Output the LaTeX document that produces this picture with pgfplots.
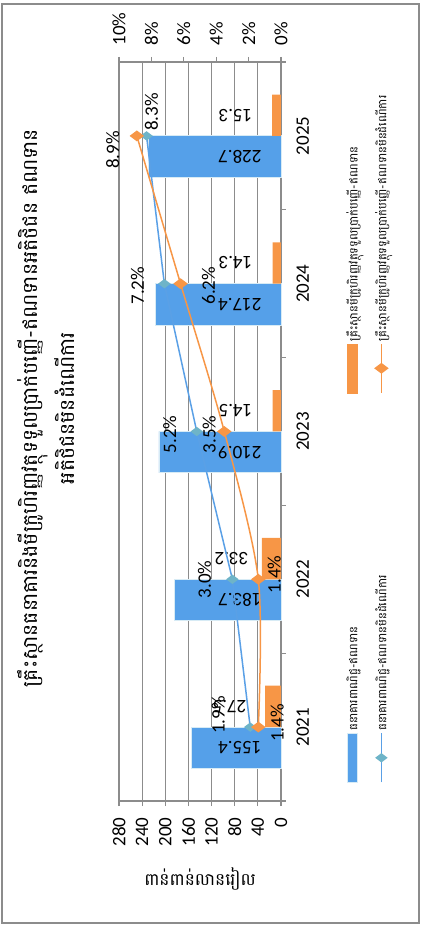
\documentclass[border=0pt]{standalone}
\usepackage{pgfplots}
\pgfplotsset{compat=1.18}
\usepackage{pgfplotstable}
\usepackage{graphicx}
\usepackage{fontspec}
\setmainfont{Carlito}
\newfontfamily\khmer[Script=Khmer]{Battambang}
\definecolor{barblue}{RGB}{85,160,233}
\definecolor{barorange}{RGB}{247,150,70}
\definecolor{lineblue}{RGB}{90,160,230}
\definecolor{markteal}{RGB}{110,180,200}
\definecolor{gridgray}{RGB}{140,140,140}
\definecolor{edgecyan}{RGB}{215,235,245}
\newcommand\numfont{\fontsize{19}{19}\selectfont}
\pgfplotsset{/pgf/number format/assume math mode=true}

\pgfplotstableread{
x xb xo cb lcb mfi lmfi cbr bdx bdy mfir odx ody
0 -0.14 0.14 155.4 71 27.5 89 1.9 12 32 1.4 4 -19
1 0.86 1.14 183.7 71 33.2 85.5 3.0 0 28 1.4 5 -16
2 1.86 2.14 210.9 71 14.5 78.6 5.2 -3 27 3.5 -3 15
3 2.86 3.14 217.4 71 14.3 78.6 7.2 -2 27 6.2 -2 -28
4 3.86 4.14 228.7 71 15.3 78.6 8.3 24 -5 8.9 -14 24
}\data

\begin{document}
\rotatebox{90}{%
\begin{tikzpicture}[x=1pt,y=1pt]
\useasboundingbox (-129,-141) rectangle (801,281);
\draw[gridgray, line width=1.2pt] (-122,-138) rectangle (797,279);
\begin{axis}[
  scale only axis, width=739pt, height=162pt,
  at={(0pt,0pt)}, anchor=south west,
  xmin=-0.5, xmax=4.5, ymin=0, ymax=280,
  axis lines*=left,
  axis line style={gridgray, line width=1.2pt},
  tick align=outside, major tick length=5pt,
  tick style={gridgray, line width=1.2pt},
  ytick={0,40,...,280},
  yticklabel style={xshift=-8pt},
  xtick={-0.5,0.5,...,4.5}, xticklabels={},
  extra x ticks={0,1,2,3,4},
  extra x tick labels={2021,2022,2023,2024,2025},
  extra x tick style={major tick length=0pt, xticklabel style={yshift=-12pt}},
  ymajorgrids, grid style={gridgray, line width=1.2pt},
  ticklabel style={font=\numfont},
  ylabel={ពាន់ពាន់លានរៀល},
  ylabel style={rotate=180, at={(axis description cs:-0.105,0.5)}, anchor=center, font=\khmer\fontsize{17}{17}\selectfont},
  clip=false,
]
\addplot[ybar, bar width=0.28, bar shift=-0.14, fill=barblue, draw=edgecyan, line width=0.8pt] table[x=x,y=cb]{\data};
\addplot[ybar, bar width=0.28, bar shift=0.14, fill=barorange, draw=none] table[x=x,y=mfi]{\data};
\addplot[draw=none, mark=none, forget plot,
  point meta=\thisrow{cb},
  nodes near coords={\pgfmathprintnumber[fixed,precision=1,fixed zerofill]{\pgfplotspointmeta}},
  every node near coord/.append style={rotate=90, anchor=center, font=\numfont, text=black}]
  table[x=xb,y=lcb]{\data};
\addplot[draw=none, mark=none, forget plot,
  point meta=\thisrow{mfi},
  nodes near coords={\pgfmathprintnumber[fixed,precision=1,fixed zerofill]{\pgfplotspointmeta}},
  every node near coord/.append style={rotate=90, anchor=center, font=\numfont, text=black}]
  table[x=xo,y=lmfi]{\data};
\end{axis}
\begin{axis}[
  scale only axis, width=739pt, height=162pt,
  at={(0pt,0pt)}, anchor=south west,
  xmin=-0.5, xmax=4.5, ymin=0, ymax=10,
  axis x line=none, axis y line*=right,
  axis line style={gridgray, line width=1.2pt},
  tick align=outside, major tick length=5pt,
  tick style={gridgray, line width=1.2pt},
  ytick={0,2,...,10},
  yticklabel={\pgfmathprintnumber{\tick}\%},
  yticklabel style={xshift=8pt},
  ticklabel style={font=\numfont},
  clip=false,
  legend columns=2,
  legend cell align=left,
  legend style={at={(axis description cs:0.02,-0.377)}, anchor=north west, draw=none, fill=none,
    font=\khmer\fontsize{11.5}{11.5}\selectfont, row sep=12pt},
  legend image code/.code={\draw[mark repeat=2,mark phase=2,#1] plot coordinates {(0pt,0pt) (24.5pt,0pt) (49pt,0pt)};},
]
\addlegendimage{legend image code/.code={\fill[barblue] (0pt,-5pt) rectangle (49pt,5pt); \draw[edgecyan, line width=0.8pt] (0pt,-5pt) rectangle (49pt,5pt);}}
\addlegendentry{\makebox[335pt][l]{ធនាគារពាណិជ្ជ-ឥណទាន}}
\addlegendimage{legend image code/.code={\fill[barorange] (0pt,-5pt) rectangle (49pt,5pt);}}
\addlegendentry{គ្រឹះស្ថានមីក្រូហិរញ្ញវត្ថុទទួលប្រាក់បញ្ញើ-ឥណទាន}
\addplot[color=lineblue, line width=1.5pt, mark=diamond*, mark size=5pt,
  mark options={fill=markteal, draw=markteal},
  point meta=\thisrow{cbr},
  visualization depends on={\thisrow{bdx}\as\ldx},
  visualization depends on={\thisrow{bdy}\as\ldy},
  nodes near coords={\pgfmathprintnumber[fixed,precision=1,fixed zerofill]{\pgfplotspointmeta}\%},
  every node near coord/.append style={anchor=center, xshift=\ldx pt, yshift=\ldy pt, font=\numfont, text=black}]
  table[x=x,y=cbr]{\data};
\addlegendentry{\makebox[335pt][l]{ធនាគារពាណិជ្ជ-ឥណទានមិនដំណើការ}}
\addplot[color=barorange, line width=1.5pt, smooth, tension=0.5, mark=diamond*, mark size=6pt,
  mark options={fill=barorange, draw=barorange},
  point meta=\thisrow{mfir},
  visualization depends on={\thisrow{odx}\as\ldx},
  visualization depends on={\thisrow{ody}\as\ldy},
  nodes near coords={\pgfmathprintnumber[fixed,precision=1,fixed zerofill]{\pgfplotspointmeta}\%},
  every node near coord/.append style={anchor=center, xshift=\ldx pt, yshift=\ldy pt, font=\numfont, text=black}]
  table[x=x,y=mfir]{\data};
\addlegendentry{គ្រឹះស្ថានមីក្រូហិរញ្ញវត្ថុទទួលប្រាក់បញ្ញើ-ឥណទានមិនដំណើការ}
\end{axis}
\node[font=\khmer\fontsize{20.4}{37}\selectfont, align=center] at (393,235)
  {គ្រឹះស្ថានធនាគារនិងមីក្រូហិរញ្ញវត្ថុទទួលប្រាក់បញ្ញើ-ឥណទានអតិថិជន ឥណទាន\\អតិថិជនមិនដំណើការ};
\end{tikzpicture}%
}
\end{document}
